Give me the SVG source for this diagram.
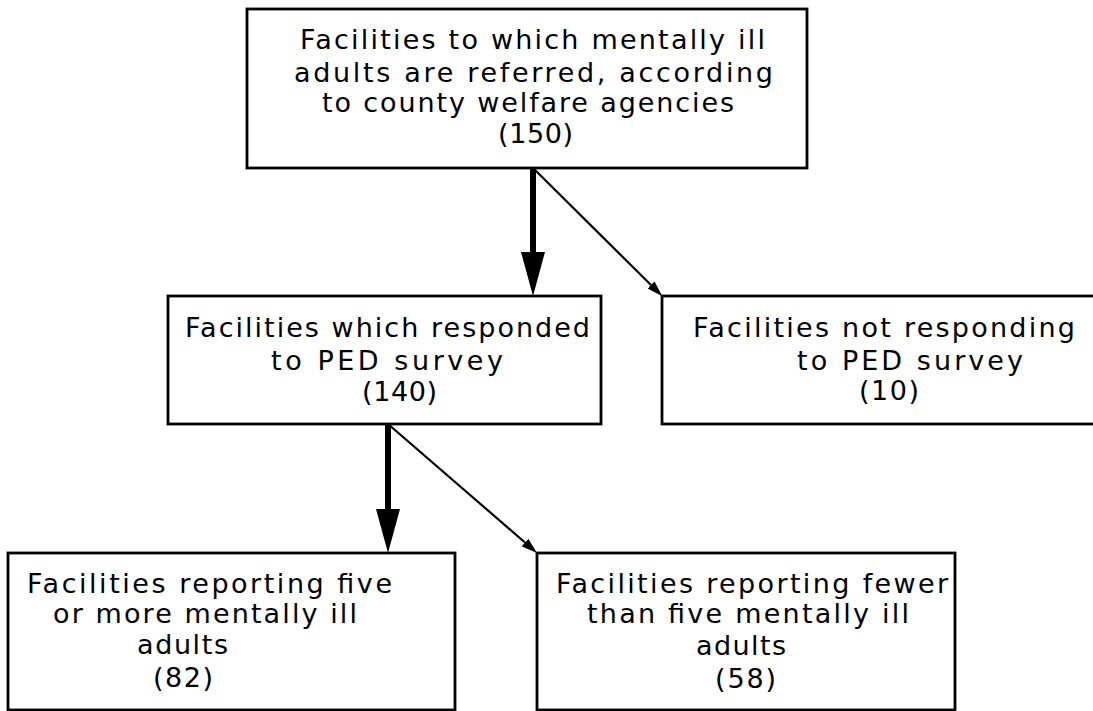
<svg xmlns="http://www.w3.org/2000/svg" width="1093" height="711" viewBox="0 0 1093 711">
<style>
.box{fill:#fff;stroke:#000;stroke-width:2.8}
text{font-family:"DejaVu Sans","Liberation Sans",sans-serif;font-size:27px;fill:#000}
.thick{stroke:#000;stroke-width:6;fill:none}
.thin{stroke:#000;stroke-width:2.2;fill:none}
</style>
<defs>
<marker id="bigHead" viewBox="0 0 44 24" refX="0" refY="12" markerWidth="44" markerHeight="24" markerUnits="userSpaceOnUse" orient="auto">
<path d="M0,0 L44,12 L0,24 z" fill="#000"/>
</marker>
<marker id="smallHead" viewBox="0 0 16 10" refX="0" refY="5" markerWidth="16" markerHeight="10" markerUnits="userSpaceOnUse" orient="auto">
<path d="M0,0 L16,5 L0,10 z" fill="#000"/>
</marker>
</defs>
<rect width="1093" height="711" fill="#fff"/>
<g id="n-top">
<rect class="box" x="247" y="9" width="560" height="159"/>
<text x="300" y="49" textLength="465" lengthAdjust="spacing">Facilities to which mentally ill</text>
<text x="294" y="82" textLength="479" lengthAdjust="spacing">adults are referred, according</text>
<text x="322" y="112" textLength="412" lengthAdjust="spacing">to county welfare agencies</text>
<text x="498" y="143" textLength="75" lengthAdjust="spacing">(150)</text>
</g>
<g id="n-responded">
<rect class="box" x="168" y="296" width="433" height="128"/>
<text x="185" y="337" textLength="405" lengthAdjust="spacing">Facilities which responded</text>
<text x="271" y="370" textLength="232" lengthAdjust="spacing">to PED survey</text>
<text x="362" y="401" textLength="75" lengthAdjust="spacing">(140)</text>
</g>
<g id="n-notresponding">
<rect class="box" x="662" y="296" width="440" height="128"/>
<text x="693" y="337" textLength="382" lengthAdjust="spacing">Facilities not responding</text>
<text x="797" y="370" textLength="226" lengthAdjust="spacing">to PED survey</text>
<text x="859" y="400" textLength="60" lengthAdjust="spacing">(10)</text>
</g>
<g id="n-five">
<rect class="box" x="8" y="553" width="447" height="157"/>
<text x="27" y="593" textLength="365" lengthAdjust="spacing">Facilities reporting five</text>
<text x="53" y="623" textLength="304" lengthAdjust="spacing">or more mentally ill</text>
<text x="137" y="654" textLength="91" lengthAdjust="spacing">adults</text>
<text x="153" y="687" textLength="60" lengthAdjust="spacing">(82)</text>
</g>
<g id="n-fewer">
<rect class="box" x="537" y="553" width="418" height="157"/>
<text x="556" y="593" textLength="392" lengthAdjust="spacing">Facilities reporting fewer</text>
<text x="587" y="623" textLength="322" lengthAdjust="spacing">than five mentally ill</text>
<text x="696" y="655" textLength="90" lengthAdjust="spacing">adults</text>
<text x="715" y="688" textLength="61" lengthAdjust="spacing">(58)</text>
</g>
<g id="connectors">
<line class="thick" x1="533" y1="168" x2="533" y2="252" marker-end="url(#bigHead)"/>
<line class="thin" x1="533" y1="168" x2="651" y2="285" marker-end="url(#smallHead)"/>
<line class="thick" x1="388" y1="424" x2="388" y2="509" marker-end="url(#bigHead)"/>
<line class="thin" x1="388" y1="424" x2="525" y2="542.5" marker-end="url(#smallHead)"/>
</g>
</svg>
